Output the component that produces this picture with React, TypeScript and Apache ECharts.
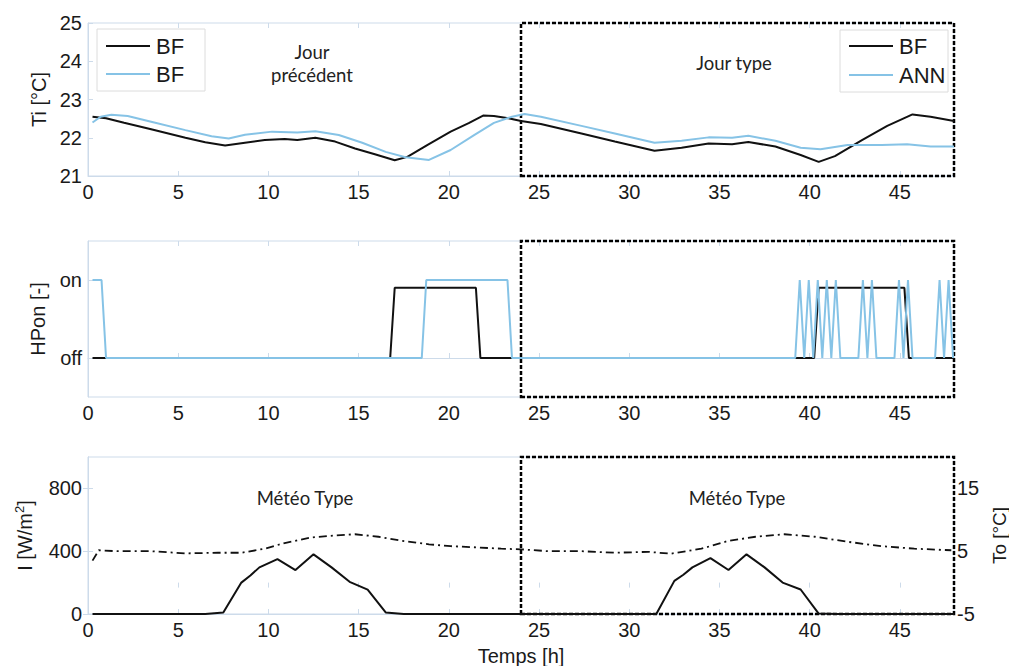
import React, { useEffect, useRef } from "react";
import * as echarts from "echarts";

// ---------- data ----------
const xTickValues = [0, 5, 10, 15, 20, 25, 30, 35, 40, 45];

// Top panel: indoor temperature Ti [°C]
const tiBF_t = [0.25, 1, 2, 3.5, 5.4, 6.5, 7.6, 8.7, 9.8, 10.9, 11.6, 12.6, 13.7, 14.8, 15.9, 17.0, 17.7, 18.8, 20.1, 21.1, 21.9, 22.5, 23.3, 24.0, 25.1, 27.35, 29.2, 31.4, 32.9, 34.4, 35.7, 36.6, 38.1, 39.5, 40.5, 41.4, 42.9, 44.3, 45.7, 46.7, 48];
const tiBF_v = [22.55, 22.51, 22.39, 22.22, 22.0, 21.88, 21.8, 21.87, 21.94, 21.97, 21.94, 22.0, 21.9, 21.72, 21.57, 21.41, 21.5, 21.81, 22.16, 22.38, 22.58, 22.57, 22.51, 22.44, 22.36, 22.11, 21.9, 21.66, 21.74, 21.85, 21.83, 21.89, 21.77, 21.55, 21.37, 21.52, 21.94, 22.31, 22.61, 22.55, 22.44];
const tiANN_t = [0.25, 0.7, 1.3, 2.2, 3.5, 5.4, 6.85, 7.8, 8.7, 10.2, 11.6, 12.6, 13.9, 15.2, 16.5, 17.6, 18.9, 20.1, 21.4, 22.5, 23.5, 24.2, 25.1, 27.35, 29.2, 31.4, 32.9, 34.4, 35.7, 36.6, 38.1, 39.5, 40.6, 42.1, 44.0, 45.4, 46.7, 48];
const tiANN_v = [22.4, 22.55, 22.6, 22.57, 22.42, 22.2, 22.04, 21.98, 22.08, 22.16, 22.14, 22.17, 22.07, 21.87, 21.63, 21.49, 21.42, 21.68, 22.07, 22.39, 22.55, 22.62, 22.55, 22.31, 22.11, 21.87, 21.92, 22.01, 22.0, 22.05, 21.92, 21.74, 21.7, 21.81, 21.81, 21.83, 21.77, 21.77];

// Middle panel: heat pump on/off
const hpBF_t = [0.25, 1.0, 16.75, 17.0, 21.5, 21.75, 40.25, 40.5, 45.25, 45.5, 48];
const hpBF_v = [0, 0, 0, 0.9, 0.9, 0, 0, 0.9, 0.9, 0, 0];
const hpANN_t = [0.25, 0.75, 1.0, 18.5, 18.75, 23.25, 23.5, 39.2, 39.45, 39.7, 39.95, 40.2, 40.45, 40.7, 40.95, 41.2, 41.45, 41.7, 42.7, 42.95, 43.2, 43.45, 43.7, 44.7, 44.95, 45.2, 45.45, 45.7, 46.95, 47.2, 47.45, 47.7, 47.95];
const hpANN_v = [1, 1, 0, 0, 1, 1, 0, 0, 1, 0, 1, 0, 1, 0, 1, 0, 1, 0, 0, 1, 0, 1, 0, 0, 1, 0, 1, 0, 0, 1, 0, 1, 0];

// Bottom panel: irradiance I [W/m2] and outdoor temperature To [°C]
const irr_t = [0.25, 6.5, 7.5, 8.5, 9.0, 9.5, 10.5, 11.5, 12.5, 13.5, 14.5, 15.5, 16.5, 17.5, 31.5, 32.5, 33.0, 33.5, 34.5, 35.5, 36.5, 37.5, 38.5, 39.5, 40.5, 41.5, 48];
const irr_v = [0, 0, 10, 200, 245, 297, 350, 280, 380, 297, 205, 155, 10, 0, 0, 211, 250, 297, 356, 280, 380, 297, 200, 156, 3, 0, 0];
const to_t = [0.25, 0.6, 1.6, 3.5, 5.4, 7.2, 8.5, 9.8, 10.9, 12.4, 13.7, 14.8, 16.1, 17.4, 18.9, 20.1, 21.6, 22.9, 24.0, 25.5, 27.35, 29.2, 31.05, 32.3, 34.0, 35.5, 37.0, 38.6, 40.3, 42.1, 44.0, 45.8, 47.85];
const to_v = [3.5, 5.15, 5.0, 5.0, 4.66, 4.75, 4.75, 5.4, 6.3, 7.2, 7.5, 7.7, 7.3, 6.65, 6.1, 5.8, 5.6, 5.4, 5.3, 5.0, 5.0, 4.75, 4.9, 4.6, 5.4, 6.65, 7.3, 7.7, 7.3, 6.5, 5.8, 5.4, 5.15];

const zip = (t: number[], v: number[]) => t.map((x, i) => [x, v[i]]);

// ---------- styles ----------
const AXC = "#cddbea";
const BLUE = "#86c3e6";
const BLACK = "#111111";
const FONT = "'Liberation Sans', Arial, sans-serif";
const ANNOT = "Lato, 'Open Sans', sans-serif";
const LABEL = { color: "#1a1a1a", fontSize: 20, fontFamily: FONT };

const grids = [
  { top: 23, height: 153 },
  { top: 241, height: 156 },
  { top: 457, height: 157 },
];

const dottedBox = {
  silent: true,
  itemStyle: {
    color: "rgba(0,0,0,0)",
    borderColor: "#000",
    borderWidth: 2.5,
    borderType: [4, 2],
  },
  data: [[{ xAxis: 24 }, { xAxis: 48 }]],
};

export default function App() {
  const ref = useRef<HTMLDivElement>(null);
  useEffect(() => {
    if (!ref.current) return;
    const chart = echarts.init(ref.current, null, { renderer: "svg" });

    const xAxes: any[] = [];
    grids.forEach((_, i) => {
      xAxes.push({
        type: "value",
        gridIndex: i,
        min: 0,
        max: 48,
        interval: 5,
        axisLine: { show: true, lineStyle: { color: AXC } },
        axisTick: { inside: true, length: 5, lineStyle: { color: AXC }, customValues: xTickValues },
        axisLabel: { ...LABEL, margin: 6, customValues: xTickValues },
        splitLine: { show: false },
        ...(i === 2
          ? {
              name: "Temps [h]",
              nameLocation: "middle",
              nameGap: 32,
              nameTextStyle: { ...LABEL },
            }
          : {}),
      });
    });
    grids.forEach((_, i) => {
      xAxes.push({
        type: "value",
        gridIndex: i,
        position: "top",
        min: 0,
        max: 48,
        interval: 5,
        axisLine: { show: false },
        axisTick: { inside: true, length: 5, lineStyle: { color: AXC }, customValues: xTickValues },
        axisLabel: { show: false },
        splitLine: { show: false },
      });
    });

    const option: any = {
      animation: false,
      backgroundColor: "#ffffff",
      grid: grids.map((g) => ({
        left: 88,
        width: 866,
        top: g.top,
        height: g.height,
        show: true,
        borderColor: AXC,
        borderWidth: 1,
        backgroundColor: "transparent",
        containLabel: false,
        outerBoundsMode: "none",
      })),
      xAxis: xAxes,
      yAxis: [
        {
          type: "value",
          gridIndex: 0,
          min: 21,
          max: 25,
          interval: 1,
          axisLine: { show: true, lineStyle: { color: AXC } },
          axisTick: { inside: true, length: 5, lineStyle: { color: AXC } },
          axisLabel: { ...LABEL, margin: 6 },
          splitLine: { show: false },
          name: "Ti [°C]",
          nameLocation: "middle",
          nameGap: 38,
          nameTextStyle: { ...LABEL },
        },
        {
          type: "value",
          gridIndex: 1,
          min: -0.5,
          max: 1.5,
          axisLine: { show: true, lineStyle: { color: AXC } },
          axisTick: { inside: true, length: 5, lineStyle: { color: AXC }, customValues: [0, 1] },
          axisLabel: {
            ...LABEL,
            margin: 6,
            customValues: [0, 1],
            formatter: (v: number) => (v === 1 ? "on" : "off"),
          },
          splitLine: { show: false },
          name: "HPon [-]",
          nameLocation: "middle",
          nameGap: 40,
          nameTextStyle: { ...LABEL },
        },
        {
          type: "value",
          gridIndex: 2,
          min: 0,
          max: 1000,
          axisLine: { show: true, lineStyle: { color: AXC } },
          axisTick: { inside: true, length: 5, lineStyle: { color: AXC }, customValues: [0, 400, 800] },
          axisLabel: { ...LABEL, margin: 6, customValues: [0, 400, 800] },
          splitLine: { show: false },
          name: "{a|I [W/m}{s|2}{a|]}",
          nameLocation: "middle",
          nameGap: 52,
          nameTextStyle: {
            ...LABEL,
            rich: {
              a: { fontSize: 20, fontFamily: FONT, color: "#1a1a1a" },
              s: { fontSize: 13, fontFamily: FONT, color: "#1a1a1a", verticalAlign: "top", padding: [0, 0, 10, 0] },
            },
          },
        },
        {
          type: "value",
          gridIndex: 2,
          position: "right",
          min: -5,
          max: 20,
          axisLine: { show: true, lineStyle: { color: AXC } },
          axisTick: { inside: true, length: 5, lineStyle: { color: AXC }, customValues: [-5, 5, 15] },
          axisLabel: { ...LABEL, margin: 3, customValues: [-5, 5, 15] },
          splitLine: { show: false },
          name: "To [°C]",
          nameLocation: "middle",
          nameRotate: 90,
          nameGap: 34,
          nameTextStyle: { ...LABEL, fontSize: 19 },
        },
      ],
      series: [
        {
          type: "line",
          name: "BF",
          xAxisIndex: 0,
          yAxisIndex: 0,
          data: zip(tiBF_t, tiBF_v),
          showSymbol: false,
          symbol: "none",
          lineStyle: { color: BLACK, width: 2 },
          markArea: dottedBox,
        },
        {
          type: "line",
          name: "ANN",
          xAxisIndex: 0,
          yAxisIndex: 0,
          data: zip(tiANN_t, tiANN_v),
          showSymbol: false,
          symbol: "none",
          lineStyle: { color: BLUE, width: 2 },
        },
        {
          type: "line",
          name: "HP BF",
          xAxisIndex: 1,
          yAxisIndex: 1,
          data: zip(hpBF_t, hpBF_v),
          showSymbol: false,
          symbol: "none",
          lineStyle: { color: BLACK, width: 2 },
          markArea: dottedBox,
        },
        {
          type: "line",
          name: "HP ANN",
          xAxisIndex: 1,
          yAxisIndex: 1,
          data: zip(hpANN_t, hpANN_v),
          showSymbol: false,
          symbol: "none",
          lineStyle: { color: BLUE, width: 2 },
        },
        {
          type: "line",
          name: "I",
          xAxisIndex: 2,
          yAxisIndex: 2,
          data: zip(irr_t, irr_v),
          showSymbol: false,
          symbol: "none",
          lineStyle: { color: BLACK, width: 2 },
          markArea: dottedBox,
        },
        {
          type: "line",
          name: "To",
          xAxisIndex: 2,
          yAxisIndex: 3,
          data: zip(to_t, to_v),
          showSymbol: false,
          symbol: "none",
          lineStyle: { color: BLACK, width: 1.8, type: [8, 4, 2, 4] },
        },
      ],
      graphic: [
        // left legend
        { type: "rect", shape: { x: 97, y: 29, width: 108, height: 62 }, style: { fill: "#fff", stroke: "#dcdcdc", lineWidth: 1 }, z: 50 },
        { type: "line", shape: { x1: 106, y1: 46, x2: 150, y2: 46 }, style: { stroke: BLACK, lineWidth: 2 }, z: 51 },
        { type: "line", shape: { x1: 106, y1: 74, x2: 150, y2: 74 }, style: { stroke: BLUE, lineWidth: 2 }, z: 51 },
        { type: "text", x: 156, y: 46, style: { text: "BF", font: `22px ${FONT}`, fill: "#1a1a1a", verticalAlign: "middle" }, z: 51 },
        { type: "text", x: 156, y: 74, style: { text: "BF", font: `22px ${FONT}`, fill: "#1a1a1a", verticalAlign: "middle" }, z: 51 },
        // right legend
        { type: "rect", shape: { x: 840, y: 30, width: 108, height: 62 }, style: { fill: "#fff", stroke: "#dcdcdc", lineWidth: 1 }, z: 50 },
        { type: "line", shape: { x1: 849, y1: 46, x2: 893, y2: 46 }, style: { stroke: BLACK, lineWidth: 2 }, z: 51 },
        { type: "line", shape: { x1: 849, y1: 75, x2: 893, y2: 75 }, style: { stroke: BLUE, lineWidth: 2 }, z: 51 },
        { type: "text", x: 899, y: 46, style: { text: "BF", font: `22px ${FONT}`, fill: "#1a1a1a", verticalAlign: "middle" }, z: 51 },
        { type: "text", x: 899, y: 75, style: { text: "ANN", font: `22px ${FONT}`, fill: "#1a1a1a", verticalAlign: "middle" }, z: 51 },
        // annotations
        { type: "text", x: 312, y: 52, style: { text: "Jour", font: `18.5px ${ANNOT}`, fill: "#222", align: "center", verticalAlign: "middle" }, z: 51 },
        { type: "text", x: 312, y: 75, style: { text: "précédent", font: `18.5px ${ANNOT}`, fill: "#222", align: "center", verticalAlign: "middle" }, z: 51 },
        { type: "text", x: 734, y: 63, style: { text: "Jour type", font: `18.5px ${ANNOT}`, fill: "#222", align: "center", verticalAlign: "middle" }, z: 51 },
        { type: "text", x: 305, y: 498, style: { text: "Météo Type", font: `18.5px ${ANNOT}`, fill: "#222", align: "center", verticalAlign: "middle" }, z: 51 },
        { type: "text", x: 737, y: 498, style: { text: "Météo Type", font: `18.5px ${ANNOT}`, fill: "#222", align: "center", verticalAlign: "middle" }, z: 51 },
      ],
    };
    chart.setOption(option);
    return () => chart.dispose();
  }, []);

  return (
    <div
      ref={ref}
      style={{ position: "absolute", left: 0, top: 0, width: 1009, height: 666, background: "#fff" }}
    />
  );
}
